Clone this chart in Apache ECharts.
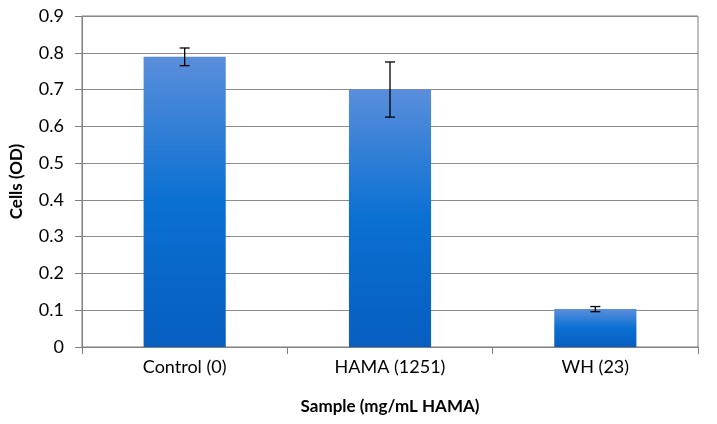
<!DOCTYPE html>
<html><head><meta charset="utf-8">
<script src="https://cdn.jsdelivr.net/npm/echarts@6/dist/echarts.min.js"></script>
<style>html,body{margin:0;padding:0;background:#fff}#c{width:717px;height:424px}</style>
</head><body><div id="c"></div>
<script>
const categories = ['Control (0)', 'HAMA (1251)', 'WH (23)'];
const values = [0.789, 0.700, 0.103];
const errors = [0.024, 0.075, 0.007];
const yTicks = [0, 0.1, 0.2, 0.3, 0.4, 0.5, 0.6, 0.7, 0.8, 0.9];

const chart = echarts.init(document.getElementById('c'));
const font = 'Lato, "Open Sans", sans-serif';
chart.setOption({
  animation: false,
  grid: {left: 81, right: 19, top: 16, bottom: 77, show: true, borderColor: '#7f7f7f', borderWidth: 1},
  xAxis: {
    type: 'category', data: categories,
    name: 'Sample (mg/mL HAMA)', nameLocation: 'middle', nameGap: 51,
    nameTextStyle: {fontFamily: font, fontSize: 17, fontWeight: 'bold', color: '#000'},
    axisLine: {lineStyle: {color: '#7f7f7f', width: 1}},
    axisTick: {show: true, length: 7, lineStyle: {color: '#7f7f7f'}},
    axisLabel: {fontFamily: font, fontSize: 18, color: '#000', margin: 11}
  },
  yAxis: {
    type: 'value', min: 0, max: 0.9, interval: 0.1,
    name: 'Cells (OD)', nameLocation: 'middle', nameGap: 57, nameRotate: 90,
    nameTextStyle: {fontFamily: font, fontSize: 17, fontWeight: 'bold', color: '#000'},
    axisLine: {show: true, lineStyle: {color: '#7f7f7f', width: 1}},
    axisTick: {show: true, length: 7, lineStyle: {color: '#7f7f7f'}},
    splitLine: {lineStyle: {color: '#8c8c8c', width: 1}},
    axisLabel: {fontFamily: font, fontSize: 18, color: '#000', margin: 18,
      formatter: v => { const t = yTicks.find(x => Math.abs(x - v) < 1e-9); return t === undefined ? '' : String(t); }}
  },
  series: [{
    type: 'bar', data: values, barWidth: '40%',
    itemStyle: {color: new echarts.graphic.LinearGradient(0, 0, 0, 1, [
      {offset: 0, color: '#5a8edb'}, {offset: 0.5, color: '#0a70d2'}, {offset: 1, color: '#075ec0'}])}
  }, {
    type: 'custom',
    data: values.map((v, i) => [i, v - errors[i], v + errors[i]]),
    renderItem: (params, api) => {
      const lo = api.coord([api.value(0), api.value(1)]);
      const hi = api.coord([api.value(0), api.value(2)]);
      const w = 5;
      const st = {stroke: '#000', lineWidth: 1.3};
      return {type: 'group', children: [
        {type: 'line', shape: {x1: hi[0], y1: hi[1], x2: lo[0], y2: lo[1]}, style: st},
        {type: 'line', shape: {x1: hi[0]-w, y1: hi[1], x2: hi[0]+w, y2: hi[1]}, style: st},
        {type: 'line', shape: {x1: lo[0]-w, y1: lo[1], x2: lo[0]+w, y2: lo[1]}, style: st}
      ]};
    },
    z: 10
  }]
});
</script></body></html>
